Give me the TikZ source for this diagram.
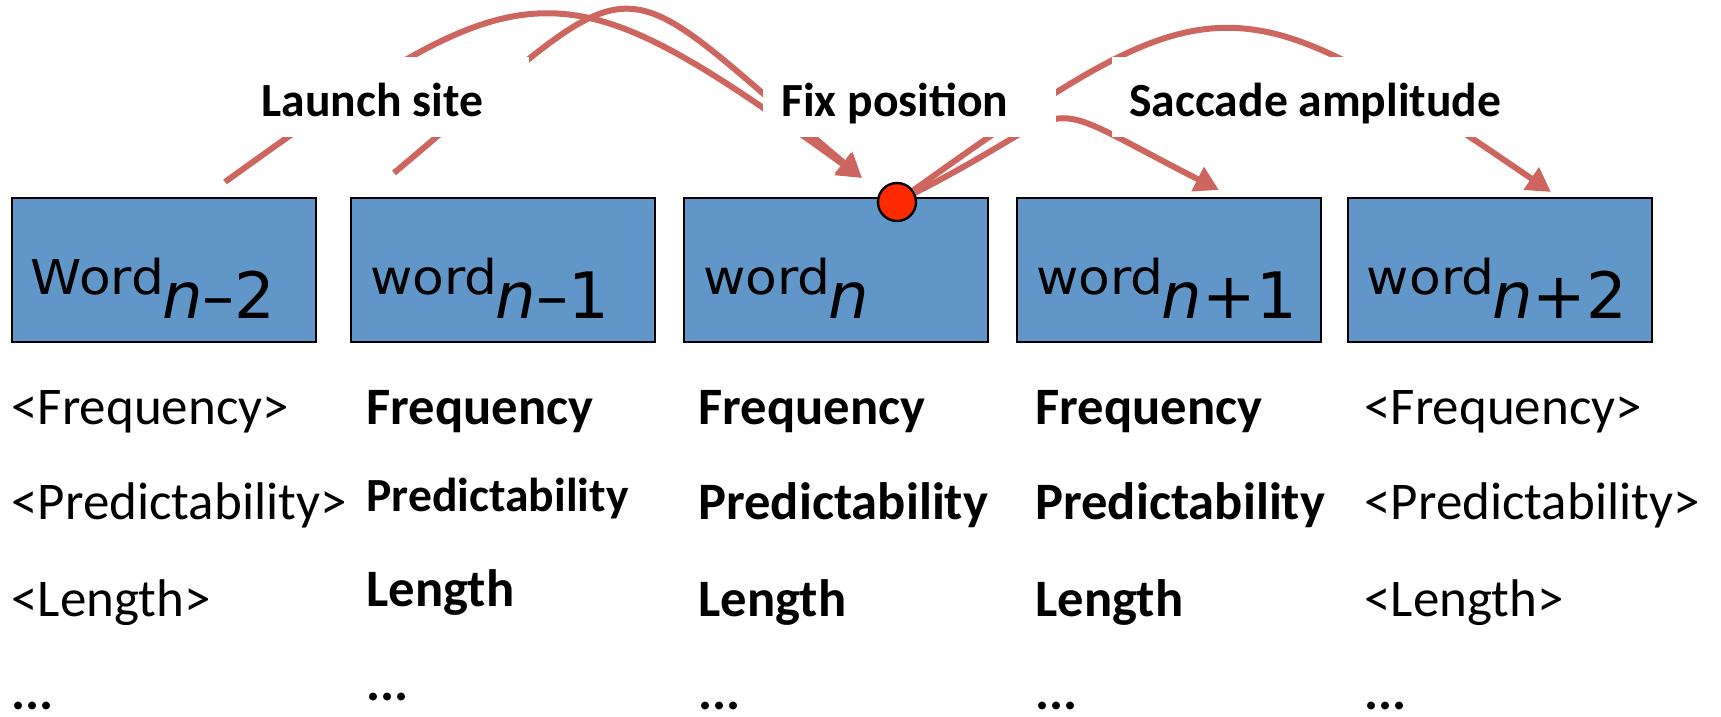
\documentclass[tikz,border=0pt]{standalone}
\usepackage{fontspec}
\setmainfont{Carlito}
\newfontfamily\parola[FakeStretch=1.08]{DejaVu Sans}
\newfontfamily\pedice{DejaVu Sans}
\usetikzlibrary{arrows.meta}

\definecolor{blu}{RGB}{97,150,200}
\definecolor{arco}{RGB}{206,102,96}
\definecolor{rosso}{RGB}{255,42,0}

% etichetta dentro il riquadro: parola + pedice grande
\newcommand{\wlab}[2]{{\parola\fontsize{24}{28}\selectfont #1\hspace{-1pt}\raisebox{-12pt}{\pedice\fontsize{32}{36}\selectfont\textit{n}#2}}}

\begin{document}
\begin{tikzpicture}[x=0.5pt, y=0.5pt,
  box/.style={draw=black, line width=1pt, fill=blu, minimum width=152pt, minimum height=72pt, inner sep=0},
  wlbl/.style={anchor=base west, inner sep=0},
  txt/.style={anchor=base west, inner sep=0, font=\fontsize{26.5}{30}\selectfont},
  btxt/.style={txt, font=\fontsize{26.3}{30}\selectfont\bfseries},
  lbl/.style={anchor=base west, inner sep=0, font=\fontsize{23.8}{28}\selectfont\bfseries},
  sacc/.style={draw=arco, line width=3pt, -{Triangle[length=12pt,width=13pt]}}]
\useasboundingbox (0,0) rectangle (1721,717);

% Riquadri delle parole
\node[box] (wnm2) at (163.5,446.5) {};
\node[box] (wnm1) at (503,446.5) {};
\node[box] (wn) at (836,446.5) {};
\node[box] (wnp1) at (1169,446.5) {};
\node[box] (wnp2) at (1499.5,446.5) {};
\node[wlbl] (lnm2) at ([xshift=10pt,yshift=-12.25pt]wnm2.west) {\wlab{Word}{–2}};
\node[wlbl] (lnm1) at ([xshift=10pt,yshift=-12.25pt]wnm1.west) {\wlab{word}{–1}};
\node[wlbl] (ln) at ([xshift=10pt,yshift=-12.25pt]wn.west) {\wlab{word}{}};
\node[wlbl] (lnp1) at ([xshift=10pt,yshift=-12.25pt]wnp1.west) {\wlab{word}{+1}};
\node[wlbl] (lnp2) at ([xshift=10pt,yshift=-12.25pt]wnp2.west) {\wlab{word}{+2}};

% Punto di fissazione
\node[circle, draw=black, line width=1.2pt, fill=rosso, minimum size=19pt, inner sep=0] (fix) at (897,515) {};

% Saccadi
\coordinate (partA) at (225,535);
\coordinate (partB) at (394,544);
\coordinate (arrN) at (862,539);
\coordinate (arrN1) at (1219,527);
\coordinate (arrN2) at (1551,525);
\draw[sacc] (partA) .. controls (530,755) and (557,759) .. (arrN);
\draw[sacc] (partB) .. controls (656,764) and (600,759) .. (arrN);
\draw[sacc] (fix) .. controls (1215,742) and (1235,741) .. (arrN2);
\draw[sacc] (fix) .. controls (1093,615) and (1023,627) .. (arrN1);

% Etichette su fondo bianco
\fill[white] (242,580) rectangle (529,660);
\fill[white] (763,580) rectangle (1056,660);
\fill[white] (1112,580) rectangle (1548,660);
\node[lbl] (launch) at (261,600) {Launch site};
\node[lbl] (fixpos) at (781,600) {Fix position};
\node[lbl] (ampl) at (1129,600) {Saccade amplitude};

% Variabili sotto le parole
\node[txt] (f1) at (11,292) {<Frequency>};
\node[txt] (p1) at (11,197) {<Predictability>};
\node[txt] (l1) at (11,100) {<Length>};
\node[btxt] (d1) at (11,7) {...};

\node[btxt] (f2) at (366,292) {Frequency};
\node[lbl] (p2) at (366,205) {Predictability};
\node[btxt] (l2) at (366,110) {Length};
\node[btxt] (d2) at (366,16) {...};

\node[btxt] (f3) at (698,292) {Frequency};
\node[btxt] (p3) at (698,197) {Predictability};
\node[btxt] (l3) at (698,100) {Length};
\node[btxt] (d3) at (698,7) {...};

\node[btxt] (f4) at (1035,292) {Frequency};
\node[btxt] (p4) at (1035,197) {Predictability};
\node[btxt] (l4) at (1035,100) {Length};
\node[btxt] (d4) at (1035,7) {...};

\node[txt] (f5) at (1364,292) {<Frequency>};
\node[txt] (p5) at (1364,197) {<Predictability>};
\node[txt] (l5) at (1364,100) {<Length>};
\node[btxt] (d5) at (1364,7) {...};
\end{tikzpicture}
\end{document}
